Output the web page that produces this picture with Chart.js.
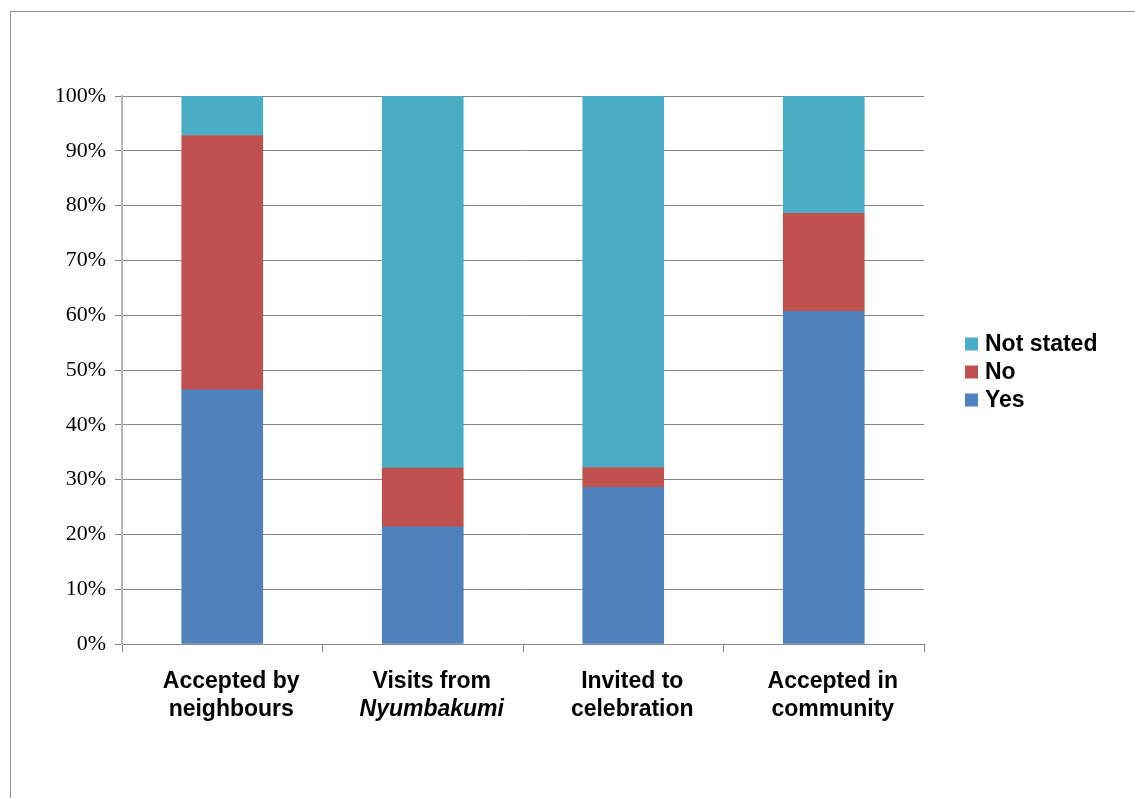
<!DOCTYPE html>
<html>
<head>
<meta charset="utf-8">
<style>
  html, body { margin: 0; padding: 0; background: #ffffff; }
  canvas { display: block; }
</style>
<script src="https://cdn.jsdelivr.net/npm/chart.js@4/dist/chart.umd.min.js"></script>
</head>
<body>
<canvas id="chart" width="1135" height="798"></canvas>
<script>
// Category labels, one array entry per line
const categories = [
  ['Accepted by', 'neighbours'],
  ['Visits from', 'Nyumbakumi'],
  ['Invited to', 'celebration'],
  ['Accepted in', 'community']
];
// Share of responses (%) per category
const yesValues       = [46.4, 21.4, 28.6, 60.7];
const noValues        = [46.4, 10.7,  3.6, 17.9];
const notStatedValues = [ 7.2, 67.9, 67.8, 21.4];
const seriesNames = ['Yes', 'No', 'Not stated'];
const yTicks = [0, 10, 20, 30, 40, 50, 60, 70, 80, 90, 100];

// Words set in italics inside the category labels
const italicWords = ['Nyumbakumi'];

const colors = { yes: '#4F81BD', no: '#C0504D', notStated: '#4BACC6' };
const gridColor = '#868686';

// Frame, background, category labels and legend
const decorations = {
  id: 'decorations',
  beforeDraw(chart) {
    const ctx = chart.ctx;
    ctx.save();
    ctx.fillStyle = '#ffffff';
    ctx.fillRect(0, 0, chart.width, chart.height);
    ctx.strokeStyle = '#8f8f8f';
    ctx.lineWidth = 1;
    ctx.strokeRect(10.5, 11.5, chart.width + 20, chart.height + 20);
    ctx.restore();
  },
  afterDraw(chart) {
    const ctx = chart.ctx;
    const xs = chart.scales.x;
    ctx.save();
    ctx.fillStyle = '#000000';
    ctx.textAlign = 'center';
    ctx.textBaseline = 'alphabetic';
    chart.data.labels.forEach((lines, i) => {
      const cx = xs.getPixelForValue(i) + 9;
      lines.forEach((line, j) => {
        const italic = italicWords.includes(line);
        ctx.font = (italic ? 'italic ' : '') + 'bold 23px "Liberation Sans", Arial, sans-serif';
        ctx.fillText(line, cx, chart.chartArea.bottom + 44 + j * 28);
      });
    });

    // Legend, top entry is the last stacked series
    const items = chart.data.datasets.slice().reverse();
    ctx.textAlign = 'left';
    ctx.textBaseline = 'middle';
    ctx.font = 'bold 23px "Liberation Sans", Arial, sans-serif';
    items.forEach((ds, k) => {
      const cy = 344 + k * 28;
      ctx.fillStyle = ds.backgroundColor;
      ctx.fillRect(965, cy - 6.5, 13, 13);
      ctx.fillStyle = '#000000';
      ctx.fillText(ds.label, 985, cy + 1);
    });
    ctx.restore();
  }
};

new Chart(document.getElementById('chart'), {
  type: 'bar',
  data: {
    labels: categories,
    datasets: [
      { label: seriesNames[0], data: yesValues,       backgroundColor: colors.yes },
      { label: seriesNames[1], data: noValues,        backgroundColor: colors.no },
      { label: seriesNames[2], data: notStatedValues, backgroundColor: colors.notStated }
    ]
  },
  options: {
    responsive: false,
    animation: false,
    devicePixelRatio: 1,
    layout: { padding: { top: 96, right: 211, left: 0, bottom: 0 } },
    datasets: { bar: { barThickness: 81, borderWidth: 0 } },
    plugins: {
      legend: { display: false },
      tooltip: { enabled: false }
    },
    scales: {
      x: {
        stacked: true,
        offset: true,
        grid: {
          offset: true,
          drawOnChartArea: false,
          drawTicks: true,
          tickLength: 8,
          color: gridColor,
          lineWidth: 1
        },
        border: { display: true, color: gridColor, width: 1 },
        ticks: { color: 'rgba(0,0,0,0)', font: { size: 1 } },
        afterFit(scale) { scale.height = 154; }
      },
      y: {
        stacked: true,
        min: 0,
        max: 100,
        afterBuildTicks(scale) { scale.ticks = yTicks.map(v => ({ value: v })); },
        grid: {
          color: gridColor,
          lineWidth: 1,
          drawTicks: true,
          tickLength: 7
        },
        border: { display: true, color: '#b5b5b5', width: 2 },
        ticks: {
          padding: 9,
          color: '#000000',
          font: { family: '"Liberation Serif", "Times New Roman", serif', size: 22 },
          callback: v => v + '%'
        },
        afterFit(scale) { scale.width = 122; }
      }
    }
  },
  plugins: [decorations]
});
</script>
</body>
</html>
